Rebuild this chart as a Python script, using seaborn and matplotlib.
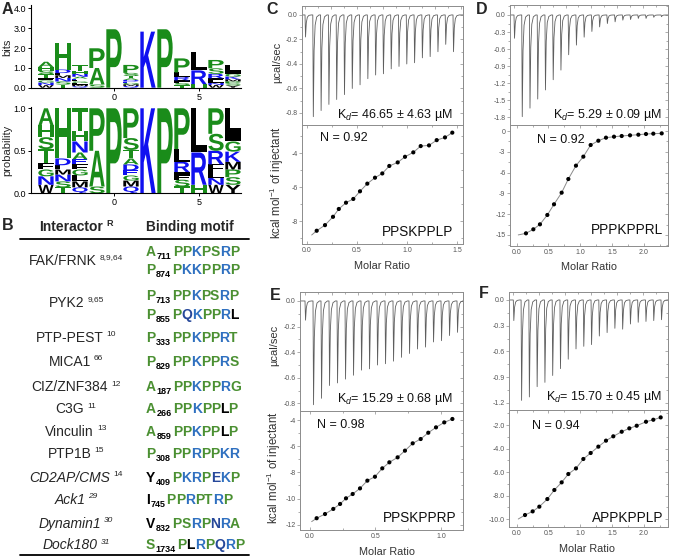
import matplotlib
matplotlib.use("Agg")
import matplotlib.pyplot as plt
import matplotlib.transforms as mtrans
from matplotlib.textpath import TextPath
from matplotlib.patches import PathPatch
from matplotlib.lines import Line2D
from matplotlib.font_manager import FontProperties
from matplotlib.ticker import MultipleLocator, FormatStrFormatter, NullFormatter
import seaborn as sns
import pandas as pd

# ---------------------------------------------------------------- data
# Panel A: sequence logo (positions, information content, letters bottom->top, probabilities)
logo_positions = [-4, -3, -2, -1, 0, 1, 2, 3, 4, 5, 6, 7]
logo_info_bits = [1.31, 2.24, 1.15, 1.99, 2.95, 1.15, 2.83, 2.95, 1.48, 1.82, 1.40, 1.15]
logo_letters = ["WNGFTSHA", "TSNMLDH", "QMLGFEANHT", "SAP", "P", "QMGEDATSP",
                "K", "P", "TSFIRLP", "HRL", "WNLFRSP", "YSPMKGIL"]
logo_probs = [
    [0.10, 0.10, 0.08, 0.08, 0.16, 0.14, 0.14, 0.20],
    [0.07, 0.07, 0.08, 0.06, 0.05, 0.08, 0.59],
    [0.07, 0.07, 0.07, 0.07, 0.06, 0.06, 0.08, 0.13, 0.12, 0.27],
    [0.08, 0.42, 0.50],
    [1.00],
    [0.08, 0.07, 0.06, 0.06, 0.07, 0.07, 0.10, 0.14, 0.35],
    [1.00],
    [1.00],
    [0.08, 0.08, 0.05, 0.04, 0.12, 0.15, 0.48],
    [0.10, 0.38, 0.52],
    [0.10, 0.08, 0.08, 0.08, 0.16, 0.20, 0.30],
    [0.10, 0.09, 0.09, 0.09, 0.12, 0.12, 0.11, 0.28],
]

# Panel B: table
table_interactors = ["FAK/FRNK", "PYK2", "PTP-PEST", "MICA1", "CIZ/ZNF384", "C3G",
                     "Vinculin", "PTP1B", "CD2AP/CMS", "Ack1", "Dynamin1", "Dock180"]
table_refs = ["8,9,64", "9,65", "10", "66", "12", "11", "13", "15", "14", "29", "30", "31"]
table_italic = [False] * 8 + [True] * 4
table_ref_italic = [False] * 9 + [True] * 3
table_motifs = [
    [("A", "711", "PPKPSRP"), ("P", "874", "PKKPPRP")],
    [("P", "713", "PPKPSRP"), ("P", "855", "PQKPPRL")],
    [("P", "333", "PPKPPRT")],
    [("P", "829", "PPKPPRS")],
    [("A", "187", "PPKPPRG")],
    [("A", "266", "PPKPPLP")],
    [("A", "859", "PPKPPLP")],
    [("P", "308", "PPRPPKR")],
    [("Y", "409", "PKRPEKP")],
    [("I", "745", "PPRPTRP")],
    [("V", "832", "PSRPNRA")],
    [("S", "1734", "PLRPQRP")],
]

# Panels C-F: ITC
inj_time = [0, 3, 6, 9, 12, 15, 18, 21, 24, 27, 30, 33, 36, 39, 42, 45, 48, 51, 54, 57]

c_power = [-0.18, -0.83, -0.78, -0.73, -0.69, -0.65, -0.60, -0.57, -0.52, -0.49,
           -0.48, -0.44, -0.42, -0.40, -0.39, -0.35, -0.34, -0.30, -0.24, -0.30]
c_ratio = [0.097, 0.18, 0.26, 0.318, 0.39, 0.463, 0.53, 0.603, 0.68, 0.753,
           0.823, 0.907, 0.98, 1.063, 1.137, 1.22, 1.297, 1.38, 1.453]
c_heat = [-8.57, -8.24, -7.75, -7.29, -6.92, -6.70, -6.25, -5.80, -5.45, -5.20,
          -4.76, -4.55, -4.22, -3.96, -3.59, -3.55, -3.24, -3.08, -2.80]
c_fit_start = (0.047, -8.82)

d_power = [-0.41, -1.79, -1.64, -1.48, -1.32, -1.14, -0.97, -0.70, -0.53, -0.39,
           -0.29, -0.21, -0.15, -0.12, -0.09, -0.08, -0.06, -0.06, -0.04, -0.03]
d_ratio = [0.146, 0.262, 0.366, 0.482, 0.587, 0.707, 0.812, 0.932, 1.048, 1.163,
           1.284, 1.404, 1.530, 1.651, 1.782, 1.913, 2.033, 2.148, 2.280]
d_heat = [-14.77, -14.19, -13.47, -12.12, -10.58, -8.90, -6.93, -5.00, -3.70, -2.02,
          -1.40, -0.96, -0.82, -0.72, -0.62, -0.53, -0.43, -0.38, -0.34]
d_fit_start = (0.025, -15.0)

e_power = [-0.15, -0.81, -0.76, -0.66, -0.64, -0.61, -0.58, -0.54, -0.53, -0.50,
           -0.49, -0.47, -0.44, -0.41, -0.375, -0.36, -0.32, -0.31, -0.27, -0.245]
e_ratio = [0.051, 0.115, 0.178, 0.230, 0.275, 0.326, 0.382, 0.438, 0.496, 0.552,
           0.606, 0.669, 0.725, 0.784, 0.845, 0.903, 0.962, 1.025, 1.087]
e_heat = [-11.50, -11.18, -10.79, -10.41, -9.98, -9.65, -9.22, -8.63, -8.33, -7.69,
          -7.23, -6.85, -6.34, -5.78, -5.45, -4.97, -4.56, -4.18, -3.92]
e_fit_start = (0.013, -11.76)

f_power = [-0.24, -1.17, -1.13, -1.01, -0.96, -0.88, -0.80, -0.69, -0.57, -0.54,
           -0.52, -0.42, -0.38, -0.33, -0.34, -0.28, -0.26, -0.25, -0.24, -0.23]
f_ratio = [0.131, 0.251, 0.356, 0.482, 0.592, 0.707, 0.812, 0.932, 1.048, 1.163,
           1.284, 1.404, 1.519, 1.651, 1.771, 1.887, 2.033, 2.148, 2.264]
f_heat = [-9.66, -9.35, -8.95, -8.30, -7.53, -6.88, -6.17, -5.69, -4.89, -4.38,
          -3.84, -3.33, -2.96, -2.57, -2.28, -2.06, -1.72, -1.55, -1.35]
f_fit_start = (0.025, -10.0)

kd_texts = [r"K$_d$= 46.65 ± 4.63 µM", r"K$_d$= 5.29 ± 0.09 µM",
            r"K$_d$= 15.29 ± 0.68 µM", r"K$_d$= 15.70 ± 0.45 µM"]
n_texts = ["N = 0.92", "N = 0.92", "N = 0.98", "N = 0.94"]
peptides = ["PPSKPPLP", "PPPKPPRL", "PPSKPPRP", "APPKPPLP"]

# ---------------------------------------------------------------- style
sns.set_theme(style="white")
plt.rcParams["font.family"] = ["Liberation Sans", "DejaVu Sans"]
plt.rcParams["mathtext.fontset"] = "custom"
plt.rcParams["mathtext.rm"] = "Liberation Sans"
plt.rcParams["mathtext.it"] = "Liberation Sans:italic"
plt.rcParams["mathtext.bf"] = "Liberation Sans:bold"
plt.rcParams["axes.unicode_minus"] = False

W, H = 675, 558
fig = plt.figure(figsize=(W / 100, H / 100), dpi=100)
fig.patch.set_facecolor("white")


def frect(x0, y0, x1, y1):
    return [x0 / W, 1 - y1 / H, (x1 - x0) / W, (y1 - y0) / H]


def ftext(x, y, s, **kw):
    return fig.text(x / W, 1 - y / H, s, **kw)


# panel letters
for lab, (lx, ly) in zip("ABCDEF", [(7, 10), (8, 226), (272, 10), (482, 9), (275, 296), (484, 294)]):
    ftext(lx, ly, lab, fontsize=11.5, fontweight="bold", ha="center", va="center")

# ---------------------------------------------------------------- Panel A
LOGO_FP = FontProperties(family="Liberation Sans", weight="bold")
logo_green, logo_blue, logo_black = "#1a8c1a", "#1010f0", "#000000"


def logo_color(ch):
    if ch in "AHSTGPC":
        return logo_green
    if ch in "KRNDEQ":
        return logo_blue
    return logo_black


def draw_letter(ax, ch, xc, y0, w, h, color):
    tp = TextPath((0, 0), ch, size=1, prop=LOGO_FP)
    bb = tp.get_extents()
    tr = (mtrans.Affine2D().translate(-bb.x0, -bb.y0)
          .scale(w / bb.width, h / bb.height).translate(xc - w / 2, y0))
    ax.add_patch(PathPatch(tr.transform_path(tp), facecolor=color, edgecolor="none", lw=0))


def draw_logo(ax, scale_by_bits):
    for pos, letters, probs, ic in zip(logo_positions, logo_letters, logo_probs, logo_info_bits):
        y = 0.0
        for ch, p in zip(letters, probs):
            h = p * ic if scale_by_bits else p
            draw_letter(ax, ch, pos, y, 0.9, h, logo_color(ch))
            y += h


def style_logo(ax, ymax, ymaj):
    ax.set_xlim(-4.88, 7.47)
    ax.set_ylim(0, ymax)
    sns.despine(ax=ax)
    for sp in ("left", "bottom"):
        ax.spines[sp].set_color("black")
        ax.spines[sp].set_linewidth(0.8)
    ax.set_xticks([0, 5])
    ax.yaxis.set_major_locator(MultipleLocator(ymaj))
    ax.yaxis.set_major_formatter(FormatStrFormatter("%.1f"))
    ax.tick_params(left=True, bottom=True, length=2.5, width=0.7, labelsize=6.5, pad=1,
                   colors="black", direction="out")


ax_bits = fig.add_axes(frect(31, 4.5, 241, 87.7))
draw_logo(ax_bits, True)
style_logo(ax_bits, 4.2, 1.0)
ftext(7.5, 47, "bits", fontsize=8, rotation=90, ha="center", va="center")

ax_prob = fig.add_axes(frect(31, 106.6, 241, 193.3))
draw_logo(ax_prob, False)
style_logo(ax_prob, 1.02, 0.5)
ftext(7.5, 150, "probability", fontsize=8, rotation=90, ha="center", va="center")

# ---------------------------------------------------------------- Panel B
renderer = fig.canvas.get_renderer()
m_green, m_blue, m_dblue = "#4b9032", "#2f70c0", "#26489a"


def motif_color(ch):
    if ch in "APSTG":
        return m_green
    if ch in "KR":
        return m_blue
    if ch in "QEN":
        return m_dblue
    return "black"


def put(x, y, s, **kw):
    return fig.text(x / W, 1 - y / H, s, va="baseline", ha="left", **kw)


def tw(t):
    return t.get_window_extent(renderer=renderer).width


def draw_motif(x, yb, first, num, rest):
    t = put(x, yb, first, color=motif_color(first), fontsize=10, fontweight="bold")
    x1 = x + tw(t) + 0.6
    ts = put(x1, yb + 3, num, color="black", fontsize=6.5, fontweight="bold")
    x2 = x1 + tw(ts) + 1.3
    for i, ch in enumerate(rest):
        tmp = put(0, 0, rest[: i + 1], fontsize=10, fontweight="bold")
        wf = tw(tmp)
        tmp.remove()
        tc = put(0, 0, ch, fontsize=10, fontweight="bold", color=motif_color(ch))
        wc = tw(tc)
        tc.set_position(((x2 + wf - wc) / W, 1 - yb / H))


def draw_name(xc, yb, name, ref, italic, ref_italic, bold=False, size=10, ref_size=6):
    st = "italic" if italic else "normal"
    t1 = put(0, 0, name, fontsize=size, fontstyle=st, fontweight="bold" if bold else "normal")
    t2 = put(0, 0, ref, fontsize=ref_size, fontstyle="italic" if ref_italic else "normal",
             fontweight="bold" if bold else "normal")
    w1, w2 = tw(t1), tw(t2)
    gap = 3.2
    x0 = xc - (w1 + gap + w2) / 2
    t1.set_position((x0 / W, 1 - yb / H))
    t2.set_position(((x0 + w1 + gap) / W, 1 - (yb - 5.5) / H))


# header
draw_name(76, 231, "Interactor", "R", False, False, bold=True, size=10, ref_size=6.5)
ftext(190, 231, "Binding motif", fontsize=9.8, fontweight="bold", ha="center", va="baseline")
fig.add_artist(Line2D([20 / W, 249 / W], [1 - 238.5 / H] * 2, color="black", lw=1.3))
fig.add_artist(Line2D([20 / W, 249 / W], [1 - 555 / H] * 2, color="black", lw=1.3))

name_y = [260, 302, 337, 361, 386, 408, 431, 453, 477, 499, 523, 544]
motif_y = [[251, 269], [295, 314], [337], [361], [386], [408], [431], [453], [477], [499], [523], [544]]
for name, ref, it, rit, ny, motifs, mys in zip(table_interactors, table_refs, table_italic,
                                               table_ref_italic, name_y, table_motifs, motif_y):
    draw_name(76, ny + 5, name, ref, it, rit)
    for (first, num, rest), my in zip(motifs, mys):
        draw_motif(146, my + 5, first, num, rest)

# ---------------------------------------------------------------- Panels C-F
spike_dt = [0.0, 0.2, 0.5, 0.9, 1.5, 2.4]
spike_frac = [0.0, 1.0, 0.35, 0.1, 0.02, 0.0]
frame_col = "#8c8c8c"


def therm_trace(depths, xlim):
    xs, ys = [xlim[0]], [0.0]
    for t, d in zip(inj_time, depths):
        for dt, f in zip(spike_dt, spike_frac):
            xs.append(t + dt)
            ys.append(d * f)
    xs.append(xlim[1])
    ys.append(0.0)
    return pd.DataFrame({"time": xs, "power": ys})


def style_frame(ax, ymaj, ymin, yfmt):
    for sp in ax.spines.values():
        sp.set_visible(True)
        sp.set_color(frame_col)
        sp.set_linewidth(0.7)
    ax.yaxis.set_major_locator(MultipleLocator(ymaj))
    ax.yaxis.set_minor_locator(MultipleLocator(ymin))
    ax.yaxis.set_major_formatter(FormatStrFormatter(yfmt))
    ax.tick_params(axis="y", which="both", left=True, right=False, direction="out",
                   labelsize=5, labelcolor="#555555", color=frame_col, width=0.5, pad=1)
    ax.tick_params(axis="y", which="major", length=2.2)
    ax.tick_params(axis="y", which="minor", length=1.2)
    sec = ax.secondary_yaxis("right")
    sec.yaxis.set_major_locator(MultipleLocator(ymaj))
    sec.yaxis.set_minor_locator(MultipleLocator(ymin))
    sec.yaxis.set_major_formatter(NullFormatter())
    sec.yaxis.set_minor_formatter(NullFormatter())
    sec.tick_params(axis="y", which="both", direction="in", color=frame_col, width=0.5, right=True)
    sec.tick_params(axis="y", which="major", length=2.2)
    sec.tick_params(axis="y", which="minor", length=1.2)
    sec.spines["right"].set_color(frame_col)
    sec.spines["right"].set_linewidth(0.7)
    ax.set_xlabel("")
    ax.set_ylabel("")


panels = [
    dict(x0=302, x1=463, yt=6, yd=125, yb=244, power=c_power, ratio=c_ratio, heat=c_heat,
         fit=c_fit_start, txlim=(-1.16, 60.85), tylim=(-0.898, 0.073), tmaj=0.2,
         bxlim=(-0.05, 1.56), bylim=(-9.35, -2.35), bmaj=2, bfmt="%d",
         kd=(453, 115), n=(320, 138), pep=(453, 232), mr=(382, 266),
         ylab=((277, 62), (277, 183))),
    dict(x0=510, x1=668, yt=5, yd=125, yb=246, power=d_power, ratio=d_ratio, heat=d_heat,
         fit=d_fit_start, txlim=(-1.55, 59.71), tylim=(-1.937, 0.176), tmaj=0.3,
         bxlim=(-0.105, 2.379), bylim=(-16.6, 0.87), bmaj=3, bfmt="%d",
         kd=(662, 115), n=(537, 140), pep=(663, 230), mr=(589, 267), ylab=None),
    dict(x0=300, x1=463, yt=292, yd=411, yb=530, power=e_power, ratio=e_ratio, heat=e_heat,
         fit=e_fit_start, txlim=(-1.875, 59.25), tylim=(-0.859, 0.070), tmaj=0.2,
         bxlim=(-0.076, 1.168), bylim=(-12.4, -3.31), bmaj=2, bfmt="%d",
         kd=(453, 399), n=(317, 425), pep=(457, 518), mr=(387, 552),
         ylab=((274, 345), (274, 468))),
    dict(x0=509, x1=668, yt=292, yd=410, yb=527, power=f_power, ratio=f_ratio, heat=f_heat,
         fit=f_fit_start, txlim=(-1.66, 59.70), tylim=(-1.282, 0.093), tmaj=0.3,
         bxlim=(-0.121, 2.379), bylim=(-10.68, -0.72), bmaj=2, bfmt="%.1f",
         kd=(662, 397), n=(532, 426), pep=(663, 518), mr=(587, 549), ylab=None),
]

for p, kd, nt, pep in zip(panels, kd_texts, n_texts, peptides):
    # thermogram
    axt = fig.add_axes(frect(p["x0"], p["yt"], p["x1"], p["yd"]))
    df = therm_trace(p["power"], p["txlim"])
    sns.lineplot(data=df, x="time", y="power", ax=axt, color="#5e5e5e", linewidth=0.6,
                 estimator=None, sort=False)
    axt.set_xlim(p["txlim"])
    axt.set_ylim(p["tylim"])
    style_frame(axt, p["tmaj"], p["tmaj"] / 2, "%.1f")
    axt.xaxis.set_major_locator(MultipleLocator(10))
    axt.xaxis.set_minor_locator(MultipleLocator(5))
    axt.tick_params(axis="x", which="both", top=True, bottom=False, direction="in",
                    labelbottom=False, labeltop=False, color=frame_col, width=0.5)
    axt.tick_params(axis="x", which="major", length=2.2)
    axt.tick_params(axis="x", which="minor", length=1.2)

    # isotherm
    axb = fig.add_axes(frect(p["x0"], p["yd"], p["x1"], p["yb"]))
    fit_x = [p["fit"][0]] + p["ratio"]
    fit_y = [p["fit"][1]] + p["heat"]
    sns.lineplot(x=fit_x, y=fit_y, ax=axb, color="#8a8a8a", linewidth=0.7,
                 estimator=None, sort=False)
    sns.scatterplot(x=p["ratio"], y=p["heat"], ax=axb, color="black", s=9,
                    edgecolor="none", zorder=3)
    axb.set_xlim(p["bxlim"])
    axb.set_ylim(p["bylim"])
    style_frame(axb, p["bmaj"], p["bmaj"] / 2, p["bfmt"])
    axb.xaxis.set_major_locator(MultipleLocator(0.5))
    axb.xaxis.set_minor_locator(MultipleLocator(0.25))
    axb.xaxis.set_major_formatter(FormatStrFormatter("%.1f"))
    axb.tick_params(axis="x", which="both", bottom=True, top=True, direction="in",
                    labelsize=5, labelcolor="#555555", color=frame_col, width=0.5, pad=2)
    axb.tick_params(axis="x", which="major", length=2.2)
    axb.tick_params(axis="x", which="minor", length=1.2)

    # texts
    ftext(p["kd"][0], p["kd"][1], kd, fontsize=9, ha="right", va="center", color="#111111")
    ftext(p["n"][0], p["n"][1], nt, fontsize=9, ha="left", va="center", color="#111111")
    ftext(p["pep"][0], p["pep"][1], pep, fontsize=9.8, ha="right", va="center", color="#111111")
    ftext(p["mr"][0], p["mr"][1], "Molar Ratio", fontsize=7.8, ha="center", va="center",
          color="#333333")
    if p["ylab"] is not None:
        (ux, uy), (kx, ky) = p["ylab"]
        ftext(ux, uy, "µcal/sec", fontsize=8, rotation=90, ha="center", va="center",
              color="#333333")
        ftext(kx, ky, r"kcal mol$^{-1}$ of injectant", fontsize=8.3, rotation=90,
              ha="center", va="center", color="#333333")

fig.savefig("out.png", dpi=100, facecolor="white")
